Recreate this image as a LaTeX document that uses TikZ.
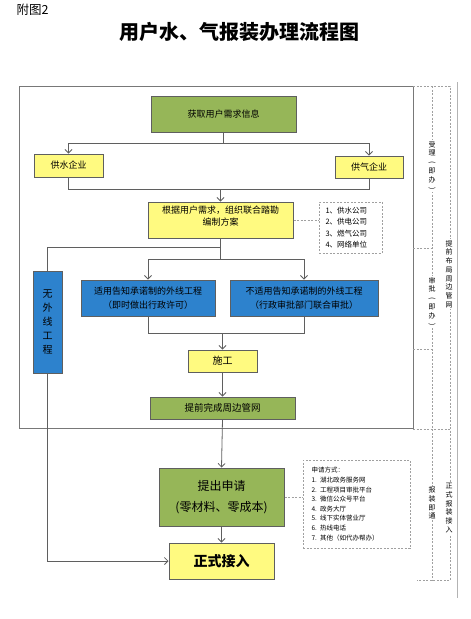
\documentclass[tikz,border=0pt]{standalone}
\usepackage{fontspec}
\setmainfont{Noto Sans CJK SC}
\usepackage{tikz}
\usetikzlibrary{arrows.meta}
\definecolor{boxgreen}{RGB}{150,182,88}
\definecolor{boxyellow}{RGB}{255,250,128}
\definecolor{boxblue}{RGB}{45,130,205}
\definecolor{boxline}{RGB}{95,95,95}
\definecolor{dashgray}{RGB}{160,160,160}
\definecolor{framegray}{RGB}{120,120,120}
\newcommand{\vopen}{\rotatebox[origin=c]{-90}{(}}
\newcommand{\vclose}{\rotatebox[origin=c]{-90}{)}}

\begin{document}
\begin{tikzpicture}[x=1pt, y=-1pt,
  >={Straight Barb[length=3.5pt,width=7pt]},
  flow/.style={draw=boxline, line width=0.8pt},
  dashline/.style={draw=dashgray, line width=1pt, dash pattern=on 2pt off 1.5pt},
  greenbox/.style={draw=boxline, line width=1pt, fill=boxgreen, inner sep=0pt, align=center, font=\fontsize{9}{12}\selectfont},
  yellowbox/.style={draw=boxline, line width=1pt, fill=boxyellow, inner sep=0pt, align=center, font=\fontsize{9}{12}\selectfont},
  bluebox/.style={draw=boxline, line width=1pt, fill=boxblue, inner sep=0pt, align=center, font=\fontsize{9}{14}\selectfont},
  listbox/.style={dashline, inner sep=0pt, align=left},
  stage/.style={fill=white, inner sep=1pt, align=center, font=\fontsize{7}{8.7}\selectfont}]
\useasboundingbox (0,0) rectangle (471,619);

%%%%% Title %%%%%
\node[anchor=west, font=\fontsize{12.5}{14}\selectfont] (fignum) at (13,10) {附图2};
\node[font=\bfseries\fontsize{20}{22}\selectfont] (title) at (239,32) {用户水、气报装办理流程图};

%%%%% Frame %%%%%
\draw[framegray, line width=0.8pt] (19,86) rectangle (413,428);
\draw[dashgray!80, line width=0.8pt] (457,82) -- (457,598);

%%%%% Boxes %%%%%
\node[greenbox, minimum width=145pt, minimum height=36pt] (info) at (223.5,114) {获取用户需求信息};
\node[yellowbox, minimum width=69pt, minimum height=23pt] (water) at (68.5,165.5) {供水企业};
\node[yellowbox, minimum width=68pt, minimum height=22pt] (gas) at (369,167) {供气企业};
\node[yellowbox, minimum width=145pt, minimum height=36pt] (plan) at (220.5,220) {根据用户需求，组织联合踏勘\\编制方案\\[-3pt]};
\node[listbox, minimum width=63pt, minimum height=51pt, text width=50pt, font=\fontsize{7.5}{11.3}\selectfont] (units) at (350.5,227.5) {1、供水公司\\2、供电公司\\3、燃气公司\\4、网络单位};
\node[bluebox, minimum width=134pt, minimum height=36pt] (notice) at (148,298) {适用告知承诺制的外线工程\\（即时做出行政许可）};
\node[bluebox, minimum width=148pt, minimum height=36pt] (joint) at (304,298) {不适用告知承诺制的外线工程\\（行政审批部门联合审批）};
\node[bluebox, minimum width=29pt, minimum height=102pt, font=\fontsize{10}{13.8}\selectfont] (nowire) at (47.5,322) {无\\外\\线\\工\\程};
\node[yellowbox, minimum width=69pt, minimum height=22pt, font=\fontsize{10}{12}\selectfont] (build) at (222.5,361) {施工};
\node[greenbox, minimum width=145pt, minimum height=22pt, font=\fontsize{9.5}{12}\selectfont] (pipe) at (222.5,408) {提前完成周边管网};
\node[greenbox, minimum width=125pt, minimum height=58pt, font=\fontsize{12}{21}\selectfont] (apply) at (221.5,497) {提出申请\\(零材料、零成本)};
\node[yellowbox, minimum width=105pt, minimum height=36pt, font=\bfseries\fontsize{14}{16}\selectfont] (connect) at (221.5,561) {正式接入};
\node[listbox, minimum width=107pt, minimum height=88pt, text width=90pt, font=\fontsize{6.5}{9.6}\selectfont] (ways) at (356.5,504) {申请方式：\\1. 湖北政务服务网\\2. 工程项目审批平台\\3. 微信公众号平台\\4. 政务大厅\\5. 线下实体营业厅\\6. 热线电话\\7. 其他（如代办帮办）};

%%%%% Connectors %%%%%
\draw[flow,->] (info.south) -- ++(0,11) -| (water.north);
\draw[flow,->] (info.south) ++(0,11) -| (gas.north);
\draw[flow] (water.south) -- ++(0,11.5) -| (gas.south);
\draw[flow,->] (water.south) ++(0,11.5) -| (plan.north);
\draw[flow] (plan.south) -- ++(0,9) -| (nowire.north);
\draw[flow,->] (plan.south) -- ++(0,21) -| (notice.north);
\draw[flow,->] (plan.south) ++(0,21) -| (joint.north);
\draw[flow] (notice.south) -- ++(0,17) -| (joint.south);
\draw[flow,->] (notice.south) ++(0,17) -| (build.north);
\draw[flow,->] (build.south) -- (pipe.north);
\draw[flow,->] (pipe.south) -- (apply.north);
\draw[flow,->] (apply.south) -- (connect.north);
\draw[flow,->] (nowire.south) |- (connect.west);
\draw[dashline] (plan.east) -- (plan.east -| units.west);
\draw[dashline] (apply.east) -- (apply.east -| ways.west);

%%%%% Stages %%%%%
\draw[dashline] (413,86) -- (450,86) -- (450,580) -- (417,580);
\draw[dashline] (432,86) -- (432,580);
\draw[dashline] (413,248) -- (432,248);
\draw[dashline] (413,349) -- (432,349);
\draw[dashline] (413,429) -- (450,429);
\node[stage] (accept) at (432,166) {受\\理\\\vopen\\即\\办\\\vclose};
\node[stage] (layout) at (449,274) {提\\前\\布\\局\\周\\边\\管\\网};
\node[stage] (approve) at (432,302) {审\\批\\\vopen\\即\\办\\\vclose};
\node[stage] (formal) at (449,508) {正\\式\\报\\装\\接\\入};
\node[stage] (instant) at (432,503) {报\\装\\即\\通};
\end{tikzpicture}
\end{document}
